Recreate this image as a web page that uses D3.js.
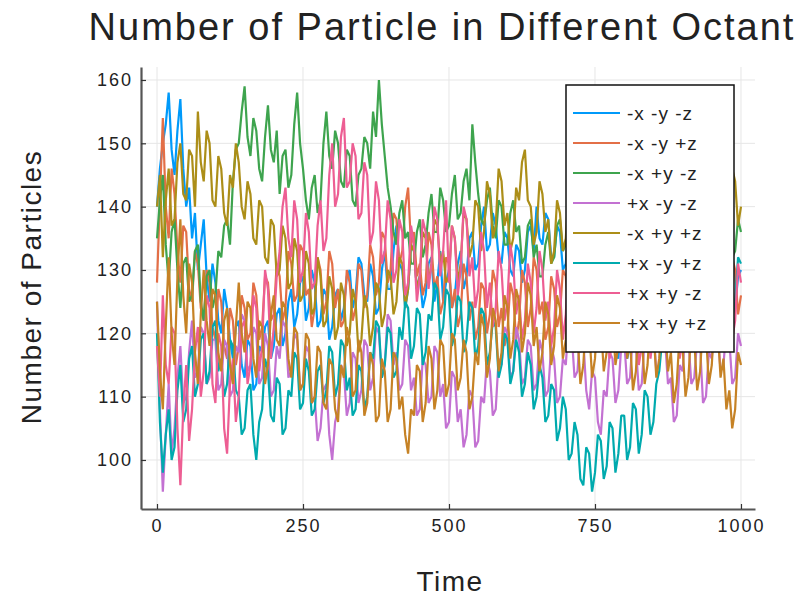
<!DOCTYPE html>
<html>
<head>
<meta charset="utf-8">
<script src="https://cdn.jsdelivr.net/npm/d3@7/dist/d3.min.js"></script>
<style>
  body { margin: 0; background: #fff; }
  text { font-family: "Liberation Sans", Arial, sans-serif; fill: #222; }
</style>
</head>
<body>
<div id="viz"></div>
<script>
// sample times (every 5 steps) and the octant counts
var times = d3.range(0, 1001, 5);

var seriesNames = ["-x -y -z", "-x -y +z", "-x +y -z", "+x -y -z",
  "-x +y +z", "+x -y +z", "+x +y -z", "+x +y +z"];

var seriesColors = ["#009AFA", "#E36F47", "#3EA44E", "#C371D2",
  "#AC8E18", "#00AAAE", "#ED5E93", "#C68225"];

var nxnynz = [140,146,150,153,158,149,145,152,157,146,140,143,135,139,130,134,138,129,125,131,
  128,122,120,127,124,119,116,121,122,115,113,119,118,111,112,118,117,121,122,116,
  118,123,124,118,120,125,127,121,123,128,129,122,124,130,128,121,122,127,126,119,
  121,126,127,122,124,129,130,124,126,132,131,126,125,131,129,123,124,130,133,127,
  127,133,137,131,130,124,127,134,133,127,129,124,126,131,132,125,128,133,125,128,
  130,124,126,131,133,127,129,135,136,130,131,137,140,133,134,139,137,132,131,136,
  135,130,129,134,133,128,130,136,137,133,140,135,134,139,138,132,132,137,136,130,
  131,137,135,130,128,133,132,127,126,121,122,128,127,121,119,125,124,118,116,122,
  121,116,118,123,124,119,120,126,126,121,122,127,128,122,123,129,129,124,125,130,
  131,126,127,121,123,128,129,124,125,130,131,126,127,132,133,127,128,123,124,129,
  130];

var nxnypz = [128,141,154,140,135,146,142,133,128,137,136,127,125,133,131,124,122,130,128,121,
  119,127,125,118,116,124,122,115,118,126,124,119,120,128,126,119,121,129,128,122,
  123,131,129,122,124,133,131,125,126,134,133,126,127,121,124,132,130,123,125,133,
  131,124,127,121,122,130,128,122,124,131,130,124,126,134,132,126,128,136,135,128,
  130,139,138,131,133,140,143,134,136,129,131,126,128,136,134,127,129,123,125,132,
  131,124,127,121,123,131,129,122,125,119,121,128,127,120,123,130,128,121,124,118,
  120,128,126,119,122,130,128,121,124,132,130,123,125,119,121,129,127,121,123,130,
  129,122,125,133,131,125,127,135,133,126,129,123,125,133,131,124,127,121,123,131,
  129,122,125,133,131,124,127,120,122,130,128,121,124,132,130,124,126,119,121,129,
  127,120,123,131,129,122,125,133,131,124,127,120,122,130,128,122,124,132,130,123,
  126];

var nxpynz = [135,141,145,134,128,136,138,130,124,131,132,125,126,133,134,125,122,129,130,124,
  126,133,132,137,138,134,144,149,150,155,159,151,148,154,152,146,144,151,156,149,
  147,152,142,148,149,143,145,153,158,150,146,141,138,143,145,139,141,150,155,148,
  146,152,150,144,143,149,148,141,140,145,146,151,150,146,155,151,160,153,148,143,
  140,136,134,139,141,135,136,131,131,136,138,132,134,139,142,136,136,143,141,136,
  137,142,145,138,139,144,146,141,153,147,142,138,137,141,143,137,135,141,140,134,
  134,139,141,136,137,131,132,137,138,132,134,129,129,134,136,131,132,137,138,133,
  134,139,140,134,135,130,131,136,137,132,133,138,139,133,134,129,130,135,136,131,
  132,137,138,132,133,128,129,134,135,130,131,136,137,132,133,127,128,133,134,129,
  130,135,136,131,132,137,138,133,134,128,129,134,135,130,131,136,137,132,133,138,
  136];

var pxnynz = [125,108,95,104,112,101,105,113,118,109,110,117,122,113,114,121,120,112,113,119,
  119,111,112,119,118,110,111,118,117,123,122,114,115,121,120,112,113,120,118,110,
  111,118,116,122,121,113,114,120,119,111,112,118,117,109,110,103,105,111,112,104,
  100,106,108,115,114,107,109,117,116,109,111,119,118,111,113,121,120,113,115,123,
  122,115,117,111,112,119,118,111,113,107,108,116,115,109,110,118,117,110,112,105,
  106,114,113,106,108,102,104,111,110,102,103,110,109,116,114,107,108,116,115,121,
  120,113,114,121,119,112,113,119,118,111,112,119,117,110,111,118,116,109,110,116,
  115,122,120,113,114,121,119,111,108,114,113,106,104,111,110,117,116,109,111,118,
  119,112,113,120,118,111,112,119,117,123,121,114,115,121,119,112,113,106,107,115,
  114,121,119,112,113,119,118,109,110,117,116,122,121,114,115,121,119,112,113,120,
  118];

var nxpypz = [140,145,132,141,146,137,138,147,150,142,141,149,148,140,155,147,144,152,150,141,
  140,148,146,139,137,145,143,150,147,140,138,144,142,135,134,141,140,132,131,138,
  137,129,130,137,135,127,128,135,133,125,126,133,131,123,124,132,129,121,122,129,
  127,119,121,128,126,118,120,127,125,117,119,126,124,118,121,128,127,121,123,130,
  129,123,125,132,131,124,127,134,133,127,129,136,135,128,131,138,137,131,133,128,
  129,137,135,128,131,139,138,132,134,141,140,133,136,144,142,135,137,146,144,137,
  139,133,135,143,141,147,149,141,140,134,136,144,142,136,138,131,133,141,139,133,
  135,143,141,135,137,130,132,140,138,132,134,142,140,134,136,129,131,139,137,131,
  133,141,139,133,135,143,141,134,136,130,132,140,138,132,134,142,140,134,136,143,
  142,135,137,131,133,141,139,133,135,143,141,135,137,145,143,136,138,146,144,137,
  140];

var pxnypz = [120,106,98,104,108,100,102,111,115,106,108,116,118,110,112,119,120,112,114,121,
  122,114,116,110,112,119,118,111,110,104,105,111,112,104,100,106,108,116,114,107,
  106,113,112,104,105,111,110,117,116,108,109,116,114,107,108,114,115,109,111,118,
  117,110,112,119,118,111,113,107,108,115,114,108,110,117,116,122,121,113,115,121,
  120,113,114,121,119,125,124,116,118,124,123,115,117,123,122,128,127,119,121,127,
  126,118,120,126,125,117,119,125,124,116,118,124,123,115,117,122,121,113,115,120,
  119,112,114,119,117,110,112,117,115,108,110,115,113,106,107,112,111,103,105,110,
  108,100,101,106,104,97,96,102,101,95,98,104,103,97,99,106,105,98,101,107,
  107,100,102,109,108,101,104,111,110,104,106,112,114,119,118,123,122,127,126,120,
  122,129,128,122,124,131,130,124,126,133,132,125,127,121,123,130,129,122,125,132,
  131];

var pxpynz = [118,110,126,115,112,121,120,105,96,108,115,103,108,117,121,110,114,126,124,112,
  109,120,118,105,101,112,116,106,110,121,122,112,115,126,124,114,118,130,127,116,
  121,129,133,140,143,135,132,141,138,128,130,139,136,127,128,137,141,133,135,145,
  150,140,142,151,154,143,144,150,148,138,139,147,145,134,136,144,141,131,133,141,
  138,128,130,138,136,126,128,137,134,125,129,138,136,127,131,140,138,129,133,141,
  128,137,135,126,130,140,138,129,132,124,127,136,133,124,128,121,124,133,130,122,
  125,134,131,123,126,119,122,131,128,120,124,133,130,122,125,118,121,130,127,119,
  123,132,129,121,125,117,120,129,126,118,122,131,128,120,124,116,119,128,125,117,
  121,130,127,119,123,115,118,127,124,116,120,129,126,118,122,131,128,120,124,116,
  119,128,125,117,121,130,127,119,123,132,129,121,125,134,131,123,127,119,122,131,
  128];

var pxpypz = [125,114,108,121,132,120,115,129,138,126,120,131,128,117,112,123,130,122,118,127,
  126,117,114,122,124,115,112,121,128,120,117,125,124,116,113,122,121,112,115,123,
  126,119,118,125,124,116,113,121,120,111,112,120,119,109,110,118,117,109,108,116,
  115,108,106,115,113,121,119,110,111,119,117,107,109,117,115,106,107,116,114,106,
  108,117,116,108,110,104,101,108,107,115,114,106,109,118,116,108,111,119,118,110,
  112,120,119,111,113,119,117,108,110,117,115,123,121,113,116,124,122,114,117,126,
  124,116,119,127,125,117,120,128,126,118,121,114,117,125,123,115,118,126,124,116,
  119,127,125,117,120,112,115,123,121,113,116,124,122,114,117,125,123,115,118,126,
  124,116,119,111,114,122,120,112,115,123,121,113,116,124,122,114,117,109,112,120,
  118,110,113,121,119,111,114,122,120,112,115,123,121,113,116,108,111,105,108,117,
  115];

var allSeries = [nxnynz, nxnypz, nxpynz, pxnynz, nxpypz, pxnypz, pxpynz, pxpypz];

var xTicks = [0, 250, 500, 750, 1000];
var yTicks = [100, 110, 120, 130, 140, 150, 160];

// set the dimensions of the graph
var w = 798;
var h = 597;
var margin = { top: 67, right: 43, bottom: 88, left: 141 };
var figw = w - margin.left - margin.right;
var figh = h - margin.top - margin.bottom;

var svg = d3.select("div#viz")
  .append("svg")
  .attr("width", w)
  .attr("height", h)
  .append("g")
  .attr("transform", "translate(" + margin.left + "," + margin.top + ")");

var x = d3.scaleLinear().domain([-27.4, 1024]).range([0, figw]);
var y = d3.scaleLinear().domain([92.26, 162.05]).range([figh, 0]);

// grid lines
svg.append("g").selectAll("line").data(xTicks).enter().append("line")
  .attr("x1", function (d) { return x(d); })
  .attr("x2", function (d) { return x(d); })
  .attr("y1", 0)
  .attr("y2", figh)
  .attr("stroke", "#e6e6e6")
  .attr("stroke-width", 1);

svg.append("g").selectAll("line").data(yTicks).enter().append("line")
  .attr("x1", 0)
  .attr("x2", figw)
  .attr("y1", function (d) { return y(d); })
  .attr("y2", function (d) { return y(d); })
  .attr("stroke", "#e6e6e6")
  .attr("stroke-width", 1);

// the eight lines
var line = d3.line()
  .x(function (d, i) { return x(times[i]); })
  .y(function (d) { return y(d); });

svg.append("g").selectAll("path").data(allSeries).enter().append("path")
  .attr("d", line)
  .attr("fill", "none")
  .attr("stroke", function (d, i) { return seriesColors[i]; })
  .attr("stroke-width", 2.2)
  .attr("stroke-linejoin", "bevel");

// axes
var xAxis = svg.append("g")
  .attr("transform", "translate(0," + figh + ")")
  .call(d3.axisBottom(x).tickValues(xTicks).tickFormat(d3.format("d"))
    .tickSizeInner(-5).tickSizeOuter(0).tickPadding(10));

var yAxis = svg.append("g")
  .call(d3.axisLeft(y).tickValues(yTicks).tickFormat(d3.format("d"))
    .tickSizeInner(-5).tickSizeOuter(0).tickPadding(8));

[xAxis, yAxis].forEach(function (a) {
  a.select(".domain").attr("stroke", "#555").attr("stroke-width", 2.2);
  a.selectAll(".tick line").attr("stroke", "#333").attr("stroke-width", 1.2);
  a.selectAll(".tick text")
    .style("font-family", "'Liberation Sans', Arial, sans-serif")
    .style("font-size", "18px")
    .style("letter-spacing", "2px")
    .attr("fill", "#222");
});

// legend
var legend = svg.append("g").attr("transform", "translate(" + (566 - margin.left) + "," + (85 - margin.top) + ")");

legend.append("rect")
  .attr("x", 0)
  .attr("y", 0)
  .attr("width", 168)
  .attr("height", 267)
  .attr("fill", "#fff")
  .attr("stroke", "#111")
  .attr("stroke-width", 1.5);

var items = legend.selectAll("g.item").data(seriesNames).enter().append("g")
  .attr("class", "item")
  .attr("transform", function (d, i) { return "translate(0," + (28 + i * 30) + ")"; });

items.append("line")
  .attr("x1", 7)
  .attr("x2", 54)
  .attr("y1", 0)
  .attr("y2", 0)
  .attr("stroke", function (d, i) { return seriesColors[i]; })
  .attr("stroke-width", 1.8);

items.append("text").text(function (d) { return d; })
  .attr("x", 61)
  .attr("y", 7)
  .style("font-size", "19px")
  .style("letter-spacing", "1px");

// title and axis labels
d3.select("svg").append("text").text("Number of Particle in Different Octant")
  .attr("x", 442)
  .attr("y", 40)
  .style("font-size", "38px")
  .style("letter-spacing", "2px")
  .style("text-anchor", "middle");

d3.select("svg").append("text").text("Time")
  .attr("x", 450)
  .attr("y", 591)
  .style("font-size", "28px")
  .style("letter-spacing", "1.5px")
  .style("text-anchor", "middle");

d3.select("svg").append("text").text("Number of Particles")
  .attr("x", -287)
  .attr("y", 41)
  .attr("transform", "rotate(-90)")
  .style("font-size", "28px")
  .style("letter-spacing", "1.5px")
  .style("text-anchor", "middle");
</script>
</body>
</html>
